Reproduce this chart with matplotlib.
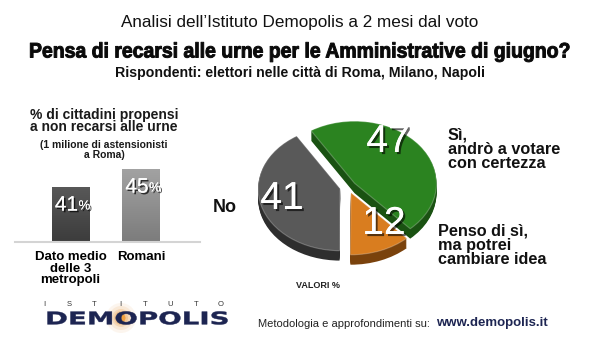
import numpy as np
import matplotlib
matplotlib.use('Agg')
import matplotlib.pyplot as plt
from matplotlib import patheffects as pe
from matplotlib.patches import Ellipse
from matplotlib.transforms import Affine2D
from matplotlib.colors import LinearSegmentedColormap

# ---------------- data ----------------
title_top = "Analisi dell’Istituto Demopolis a 2 mesi dal voto"
title_main = "Pensa di recarsi alle urne per le Amministrative di giugno?"
title_sub = "Rispondenti: elettori nelle città di Roma, Milano, Napoli"

pie_labels = ["Sì,\nandrò a votare\ncon certezza", "Penso di sì,\nma potrei\ncambiare idea", "No"]
pie_values = [47, 12, 41]

bar_title = "% di cittadini propensi\na non recarsi alle urne"
bar_note = "(1 milione di astensionisti\na Roma)"
bar_categories = ["Dato medio\ndelle 3\nmetropoli", "Romani"]
bar_values = [41, 45]

logo_small = "ISTITUTO"
logo_big = "DEMOPOLIS"
footer_text = "Metodologia e approfondimenti su: "
footer_url = "www.demopolis.it"

# ---------------- style ----------------
FONT = ['Liberation Sans', 'DejaVu Sans']
plt.rcParams['font.family'] = FONT
pie_colors = ['#2b8320', '#d97d1f', '#595959']
pie_side = ['#1a5212', '#7a420c', '#2e2e2e']
bar_grads = [('#3c3c3c', '#585858'), ('#7c7c7c', '#a2a2a2')]
NAVY = '#1d2552'

W, H = 600, 347
fig = plt.figure(figsize=(W / 100, H / 100), dpi=100)
fig.patch.set_facecolor('white')


class Stretch(pe.AbstractPathEffect):
    """Draw text glyphs scaled about their baseline-left origin (text stays a Text artist)."""

    def __init__(self, width=None, sy=1.0, stroke=0.0):
        super().__init__()
        self.width, self.sy, self.stroke = width, sy, stroke

    def draw_path(self, renderer, gc, tpath, affine, rgbFace=None):
        sx = 1.0
        if self.width:
            ext = tpath.get_extents(affine)
            sx = self.width / max(ext.width, 1e-6)
        new = Affine2D().scale(sx, self.sy) + affine
        gc0 = renderer.new_gc()
        gc0.copy_properties(gc)
        if self.stroke:
            gc0.set_linewidth(self.stroke)
            gc0.set_foreground(rgbFace)
        else:
            gc0.set_linewidth(0)
        renderer.draw_path(gc0, tpath, new, rgbFace)
        gc0.restore()


def frac(x0, y0, x1, y1):
    """pixel box (top-left origin) -> figure fraction rect"""
    return [x0 / W, (H - y1) / H, (x1 - x0) / W, (y1 - y0) / H]


# ---------------- bar chart ----------------
axb = fig.add_axes(frac(15, 160, 200, 242))
xpos = np.arange(len(bar_values))
ylo = 28.8
bars = axb.bar(xpos, bar_values, width=0.53, color=[g[1] for g in bar_grads], zorder=2)
for b, (cb, ct) in zip(bars, bar_grads):
    cmap = LinearSegmentedColormap.from_list('g', [cb, ct])
    grad = np.linspace(0, 1, 64).reshape(-1, 1)
    im = axb.imshow(grad, extent=[b.get_x(), b.get_x() + b.get_width(), ylo, b.get_height()],
                    origin='lower', cmap=cmap, aspect='auto', zorder=2.5)
    im.set_clip_path(b)
axb.set_aspect('auto')
axb.set_xlim(-0.787, 1.837)
axb.set_ylim(ylo, 47.0)
for s in ['top', 'right', 'left']:
    axb.spines[s].set_visible(False)
axb.spines['bottom'].set_color('#d4d4d4')
axb.spines['bottom'].set_linewidth(1.5)
axb.set_yticks([])
axb.set_xticks(xpos, bar_categories)
axb.tick_params(axis='x', length=0, pad=6.5)
for t in axb.get_xticklabels():
    t.set_fontweight('bold')
    t.set_fontsize(9.5)
    t.set_linespacing(0.95)
shadow = [pe.withSimplePatchShadow(offset=(1.2, -1.2), shadow_rgbFace='black', alpha=0.7), pe.Normal()]
for xi, v in zip(xpos, bar_values):
    axb.annotate(f"{v}", (xi, v), xytext=(5.5, -13), textcoords='offset points',
                 ha='right', va='center', color='white', fontsize=15, path_effects=shadow, zorder=5)
    axb.annotate("%", (xi, v), xytext=(5.8, -14), textcoords='offset points',
                 ha='left', va='center', color='white', fontsize=9.5, path_effects=shadow, zorder=5)

# ---------------- pie chart ----------------
axp = fig.add_axes(frac(241.4, 106.4, 454.6, 273.8))
explode = [0.1, 0.1, 0.1]
start = 122
for t in np.linspace(0.16, 0.01, 10):
    axp.pie(pie_values, explode=explode, colors=pie_side, startangle=start,
            counterclock=False, center=(0, -t), wedgeprops=dict(linewidth=0))
wedges, _ = axp.pie(pie_values, explode=explode, colors=pie_colors, startangle=start,
                    counterclock=False, wedgeprops=dict(linewidth=0.8, edgecolor='#ffffff40'))
axp.set_aspect('auto')
axp.set_xlim(-1.3, 1.3)
axp.set_ylim(-1.4, 1.3)
axp.axis('off')

# ---------------- overlay (pixel coordinates) ----------------
ov = fig.add_axes([0, 0, 1, 1])
ov.set_xlim(0, W)
ov.set_ylim(H, 0)
ov.axis('off')
ov.patch.set_alpha(0)

ov.text(300, 22.5, title_top, ha='center', va='center', fontsize=12.3, color='#111111')
ov.text(29, 57.5, title_main, ha='left', va='baseline', fontsize=14, fontweight='bold',
        color='#0a0a0a', path_effects=[Stretch(width=539, sy=1.08, stroke=0.7)])
ov.text(300, 72.5, title_sub, ha='center', va='center', fontsize=10.2, fontweight='bold', color='#111111')

ov.text(104, 121, bar_title, ha='center', va='center', fontsize=10, fontweight='bold',
        linespacing=0.9, color='#1a1a1a')
ov.text(104, 150, bar_note, ha='center', va='center', fontsize=7.5, fontweight='bold',
        linespacing=0.9, color='#1a1a1a')

# pie values
num_pos = [(388, 142), (384, 224), (282, 199)]
pshadow = [pe.withSimplePatchShadow(offset=(1.5, -1.5), shadow_rgbFace='black', alpha=0.6), pe.Normal()]
for (x, y), v in zip(num_pos, pie_values):
    ov.text(x, y, f"{v}", ha='center', va='center', fontsize=28, color='white', path_effects=pshadow)

# pie category labels
ov.text(448, 149, pie_labels[0], ha='left', va='center', fontsize=11.7, fontweight='bold',
        linespacing=0.95, color='#111111')
ov.text(438, 245, pie_labels[1], ha='left', va='center', fontsize=11.7, fontweight='bold',
        linespacing=0.95, color='#111111')
ov.text(213, 207, pie_labels[2], ha='left', va='center', fontsize=13, fontweight='bold', color='#111111')
ov.text(318, 285, "VALORI %", ha='center', va='center', fontsize=6.5, fontweight='bold', color='#222222')

# logo
for r, a in [(15, 0.10), (12, 0.15), (9, 0.25), (7, 0.35)]:
    ov.add_patch(Ellipse((121, 318), 2 * r, 2 * r, color='#e9a55a', alpha=a, lw=0, zorder=1))
ov.add_patch(Ellipse((121, 318), 9, 9, color='#f0a040', lw=0, zorder=1.5))
for x, ch in zip(np.linspace(44, 221, len(logo_small)), logo_small):
    ov.text(x, 304, ch, ha='center', va='center', fontsize=5.5, color='#333333')
ov.text(45, 324.3, logo_big, ha='left', va='baseline', fontsize=12.5, fontweight='bold',
        family=['DejaVu Sans'], color=NAVY, zorder=2,
        path_effects=[Stretch(width=180, sy=1.0, stroke=0.3)])

ov.text(258, 324, footer_text, ha='left', va='center', fontsize=8, color='#222222')
ov.text(436, 323, footer_url, ha='left', va='center', fontsize=9.5, fontweight='bold', color=NAVY)

fig.savefig('out.png', dpi=100)
